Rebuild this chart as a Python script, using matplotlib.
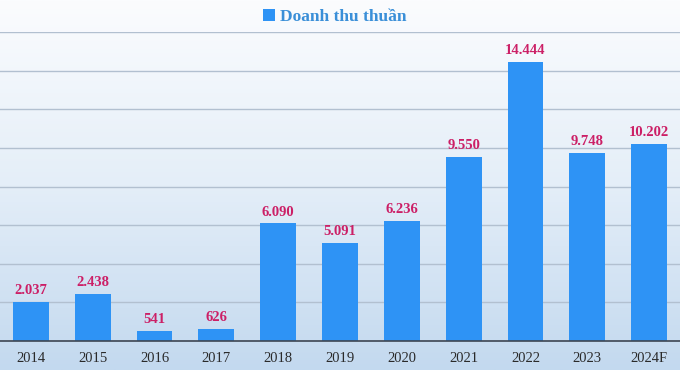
import numpy as np
import matplotlib
matplotlib.use("Agg")
import matplotlib.pyplot as plt
from matplotlib.colors import LinearSegmentedColormap

years = ["2014", "2015", "2016", "2017", "2018", "2019", "2020", "2021", "2022", "2023", "2024F"]
revenue = [2037, 2438, 541, 626, 6090, 5091, 6236, 9550, 14444, 9748, 10202]
value_labels = ["2.037", "2.438", "541", "626", "6.090", "5.091", "6.236", "9.550", "14.444", "9.748", "10.202"]
series_name = "Doanh thu thuần"

plt.rcParams['font.family'] = ['Liberation Serif', 'DejaVu Serif']

fig = plt.figure(figsize=(6.8, 3.7), dpi=100)

# background gradient (white at top -> light blue at bottom)
bg = fig.add_axes([0, 0, 1, 1], zorder=-10)
grad = np.linspace(0, 1, 256).reshape(-1, 1)
cmap = LinearSegmentedColormap.from_list("bg", ["#fbfcfe", "#e4eef8", "#c3d9ef"])
bg.imshow(grad, aspect="auto", cmap=cmap, extent=[0, 1, 0, 1], origin="upper")
bg.axis("off")

ax = fig.add_axes([0.0, 1 - 341 / 370, 1.0, (341 - 32) / 370])
ax.patch.set_alpha(0)

x = np.arange(len(years))
bars = ax.bar(x, revenue, width=0.58, color="#2e93f5", zorder=3)

for xi, v, lab in zip(x, revenue, value_labels):
    ax.text(xi, v + 250, lab, ha="center", va="bottom", fontsize=10.5,
            fontweight="bold", color="#cc1f66", zorder=4)

ax.set_xlim(-0.5, len(years) - 0.5)
ax.set_ylim(0, 16000)
ax.set_yticks(np.arange(0, 16001, 2000))
ax.yaxis.grid(True, color="#b2c0d0", linewidth=1.0, zorder=1)
ax.set_axisbelow(True)
ax.tick_params(axis="y", left=False, labelleft=False)
ax.tick_params(axis="x", length=0, pad=8, labelsize=10.5, colors="#2a2a2a")
ax.set_xticks(x)
ax.set_xticklabels(years)
for s in ["left", "right", "top"]:
    ax.spines[s].set_visible(False)
ax.spines["bottom"].set_color("#3d4552")
ax.spines["bottom"].set_linewidth(1.2)
ax.spines["bottom"].set_zorder(5)

leg = ax.legend([bars], [series_name], loc="center", bbox_to_anchor=(0.492, 1 + 15 / 309),
                frameon=False, handlelength=0.7, handleheight=0.7, handletextpad=0.3,
                prop={"weight": "bold", "size": 12.5})
for t in leg.get_texts():
    t.set_color("#3a8fd8")

fig.savefig("out.png", dpi=100)
